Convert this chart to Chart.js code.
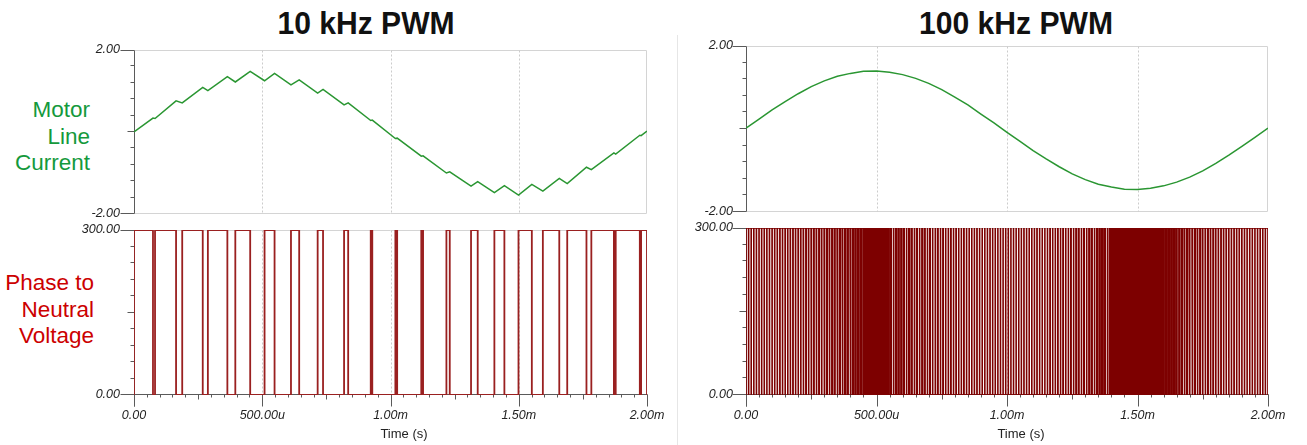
<!DOCTYPE html>
<html>
<head>
<meta charset="utf-8">
<script src="https://cdn.jsdelivr.net/npm/chart.js@4"></script>
<style>
    body { margin: 0; width: 1307px; height: 445px; overflow: hidden; position: relative; background: #fff; font-family: "Liberation Sans", Arial, sans-serif; }
    .box { position: absolute; }
    .title { position: absolute; width: 400px; text-align: center; font-weight: bold; font-size: 32px; line-height: 32px; color: #111; transform: scaleX(0.94); }
    .side { position: absolute; text-align: right; font-size: 22.5px; line-height: 26.7px; }
    .axisTitle { position: absolute; width: 100px; text-align: center; font-size: 13px; color: #222; }
    .sep { position: absolute; left: 677px; top: 35px; width: 1px; height: 410px; background: #e6e6e6; }
</style>
</head>
<body>
<div class="title" style="left:166px; top:7px;">10 kHz PWM</div>
<div class="title" style="left:816px; top:7px;">100 kHz PWM</div>
<div class="side" style="right:1217px; top:97px; color:#14993c;">Motor<br>Line<br>Current</div>
<div class="side" style="right:1213px; top:270px; color:#cc0000;">Phase to<br>Neutral<br>Voltage</div>
<div class="sep"></div>

<div class="box" style="left:0px; top:25px; width:680px; height:214px;"><canvas id="curLeft"></canvas></div>
<div class="box" style="left:0px; top:205px; width:680px; height:240px;"><canvas id="voltLeft"></canvas></div>
<div class="box" style="left:612px; top:21px; width:695px; height:216px;"><canvas id="curRight"></canvas></div>
<div class="box" style="left:612px; top:203px; width:695px; height:242px;"><canvas id="voltRight"></canvas></div>

<div class="axisTitle" style="left:354px; top:426px;">Time (s)</div>
<div class="axisTitle" style="left:971px; top:426px;">Time (s)</div>

<script>
// time in microseconds
const timeTicks = [0, 500, 1000, 1500, 2000];
const xTickLabels = ["0.00", "500.00u", "1.00m", "1.50m", "2.00m"];
const currentRange = [-2, 2];
const currentTickLabels = ["-2.00", "2.00"];
const voltageRange = [0, 300];
const voltageTickLabels = ["0.00", "300.00"];
const pwmLevels = [0, 300];

// 10 kHz PWM: high intervals (rise / fall)
const pwm10Rise = [0, 82, 188, 288, 395, 509, 612, 716, 819, 923, 1019, 1120, 1218, 1314, 1405, 1499, 1594, 1689, 1783, 1878, 1977];
const pwm10Fall = [74, 164, 268, 364, 453, 548, 644, 737, 835, 929, 1026, 1127, 1231, 1340, 1444, 1551, 1658, 1764, 1871, 1972, 2000];

// 10 kHz motor current at the switching edges
const cur10Time = [0, 74, 82, 164, 188, 268, 288, 364, 395, 453, 509, 548, 612, 644, 716, 737, 819, 835, 923, 929,
    1019, 1026, 1120, 1127, 1218, 1231, 1314, 1340, 1405, 1444, 1499, 1551, 1594, 1658, 1689, 1764, 1783, 1871, 1878, 1972, 1977, 2000];
const cur10Value = [0.00, 0.34, 0.33, 0.76, 0.71, 1.09, 1.01, 1.35, 1.22, 1.48, 1.25, 1.43, 1.15, 1.27, 0.95, 1.04, 0.66, 0.71, 0.28, 0.29,
    -0.16, -0.15, -0.59, -0.58, -1.00, -0.97, -1.32, -1.21, -1.48, -1.31, -1.54, -1.28, -1.44, -1.13, -1.26, -0.86, -0.92, -0.51, -0.54, -0.08, -0.09, 0.02];

// 100 kHz motor current
const cur100Time = [0, 50, 100, 150, 200, 250, 300, 350, 400, 450, 500, 550, 600, 650, 700, 750, 800, 850, 900, 950,
    1000, 1050, 1100, 1150, 1200, 1250, 1300, 1350, 1400, 1450, 1500, 1550, 1600, 1650, 1700, 1750, 1800, 1850, 1900, 1950, 2000];
const cur100Value = [0.02, 0.24, 0.46, 0.66, 0.85, 1.02, 1.16, 1.27, 1.34, 1.39, 1.40, 1.37, 1.31, 1.22, 1.10, 0.95, 0.77, 0.58, 0.36, 0.15,
    -0.08, -0.30, -0.52, -0.72, -0.91, -1.08, -1.22, -1.33, -1.40, -1.45, -1.46, -1.43, -1.37, -1.28, -1.16, -1.01, -0.83, -0.63, -0.42, -0.20, 0.02];

// 100 kHz PWM duty, one value per 50 us (5 periods of 10 us)
const pwm100Duty = [0.97, 0.96, 0.94, 0.91, 0.87, 0.83, 0.78, 0.73, 0.67, 0.56, 0.44, 0.30, 0.26, 0.22, 0.17, 0.13, 0.09, 0.06, 0.04, 0.03,
    0.03, 0.04, 0.06, 0.09, 0.13, 0.18, 0.24, 0.35, 0.43, 0.48, 0.53, 0.58, 0.63, 0.72, 0.79, 0.85, 0.90, 0.93, 0.96, 0.97];
const pwm100Period = 10;
const periodsPerDuty = 5;

const COLORS = {
    current: "#2a9632",
    voltage10: "#9a2020",
    voltage100: "#7d0000",
    axis: "#5a5a5a",
    frame: "#d4d4d4",
    grid: "#cccccc",
    tickText: "#222",
};

const scopeAxes = {
    id: "scopeAxes",
    beforeDatasetsDraw(chart, args, opts) {
        const ctx = chart.ctx;
        const xs = chart.scales.x;
        const ys = chart.scales.y;
        const px = (v) => Math.round(xs.getPixelForValue(v)) + 0.5;
        const py = (v) => Math.round(ys.getPixelForValue(v)) - 0.5;
        const left = px(timeTicks[0]);
        const right = px(timeTicks[timeTicks.length - 1]) - 1;
        const top = py(ys.max) + 1;
        const bottom = py(ys.min);

        ctx.save();
        ctx.lineWidth = 1;
        // light frame
        ctx.strokeStyle = COLORS.frame;
        ctx.beginPath();
        ctx.moveTo(left, top);
        ctx.lineTo(right, top);
        ctx.lineTo(right, bottom);
        if (!opts.xAxis) ctx.lineTo(left, bottom);
        ctx.stroke();

        // dashed time grid
        ctx.strokeStyle = COLORS.grid;
        ctx.setLineDash([2, 2]);
        timeTicks.slice(1, -1).forEach((t) => {
            ctx.beginPath();
            ctx.moveTo(px(t), top);
            ctx.lineTo(px(t), bottom);
            ctx.stroke();
        });
        ctx.setLineDash([]);

        // axes
        ctx.strokeStyle = COLORS.axis;
        ctx.beginPath();
        ctx.moveTo(left, top);
        ctx.lineTo(left, bottom + (opts.xAxis ? 12 : 0));
        ctx.stroke();

        const eps = 1e-6;
        for (let v = ys.min; v <= ys.max + eps; v += opts.yStep) {
            let len = 4;
            if (Math.abs(v - ys.min) < eps || Math.abs(v - ys.max) < eps) len = 14;
            else if (Math.abs(v - opts.yMid) < eps) len = 7;
            const y = py(v) + (Math.abs(v - ys.max) < eps ? 1 : 0);
            ctx.beginPath();
            ctx.moveTo(left - len, y);
            ctx.lineTo(left, y);
            ctx.stroke();
        }

        if (opts.xAxis) {
            ctx.beginPath();
            ctx.moveTo(left, bottom);
            ctx.lineTo(right + 1, bottom);
            ctx.stroke();
            for (let t = xs.min; t <= xs.max; t += 50) {
                const len = t % 500 === 0 ? 12 : t % 250 === 0 ? 5 : 3;
                const x = Math.min(px(t), right + 1);
                ctx.beginPath();
                ctx.moveTo(x, bottom);
                ctx.lineTo(x, bottom + len);
                ctx.stroke();
            }
        }
        ctx.restore();
    },
};

function zip(times, values) {
    return times.map((t, i) => ({ x: t, y: values[i] }));
}

function buildVoltage10() {
    const points = [];
    pwm10Rise.forEach((rise, i) => {
        const fall = pwm10Fall[i];
        points.push({ x: rise, y: pwmLevels[0] }, { x: rise, y: pwmLevels[1] }, { x: fall, y: pwmLevels[1] }, { x: fall, y: pwmLevels[0] });
    });
    return points;
}

function buildVoltage100() {
    const points = [];
    pwm100Duty.forEach((duty, block) => {
        for (let k = 0; k < periodsPerDuty; k++) {
            const center = (block * periodsPerDuty + k + 0.5) * pwm100Period;
            const half = (duty * pwm100Period) / 2;
            points.push(
                { x: center - half, y: pwmLevels[0] },
                { x: center - half, y: pwmLevels[1] },
                { x: center + half, y: pwmLevels[1] },
                { x: center + half, y: pwmLevels[0] }
            );
        }
    });
    return points;
}

function createScope(canvasID, settings) {
    const tickFont = { family: "'Liberation Sans', Arial, sans-serif", size: 12.5, style: "italic" };
    return new Chart(document.getElementById(canvasID), {
        type: "line",
        data: {
            datasets: [
                {
                    data: settings.points,
                    borderColor: settings.color,
                    borderWidth: settings.lineWidth,
                    pointRadius: 0,
                    tension: 0,
                    fill: false,
                },
            ],
        },
        options: {
            responsive: true,
            maintainAspectRatio: false,
            animation: false,
            events: [],
            layout: { padding: settings.padding },
            plugins: {
                legend: { display: false },
                tooltip: { enabled: false },
                scopeAxes: { xAxis: settings.xAxis, yStep: settings.yStep, yMid: settings.yMid },
            },
            scales: {
                x: {
                    type: "linear",
                    min: timeTicks[0],
                    max: timeTicks[timeTicks.length - 1],
                    display: settings.xAxis,
                    grid: { display: false, drawTicks: false },
                    border: { display: false },
                    afterBuildTicks: (scale) => {
                        scale.ticks = timeTicks.map((v) => ({ value: v }));
                    },
                    ticks: {
                        autoSkip: false,
                        maxRotation: 0,
                        padding: 13,
                        color: COLORS.tickText,
                        font: tickFont,
                        callback: (value, index) => xTickLabels[index],
                    },
                    afterFit: (scale) => {
                        if (settings.xAxis) scale.height = 50;
                    },
                },
                y: {
                    type: "linear",
                    min: settings.range[0],
                    max: settings.range[1],
                    grid: { display: false, drawTicks: false },
                    border: { display: false },
                    afterBuildTicks: (scale) => {
                        scale.ticks = settings.range.map((v) => ({ value: v }));
                    },
                    ticks: {
                        padding: settings.labelPad,
                        color: COLORS.tickText,
                        font: tickFont,
                        callback: (value, index) => settings.labels[index],
                    },
                    afterFit: (scale) => {
                        scale.width = 134;
                    },
                },
            },
        },
        plugins: [scopeAxes],
    });
}

createScope("curLeft", {
    points: zip(cur10Time, cur10Value),
    color: COLORS.current, lineWidth: 1.5,
    range: currentRange, labels: currentTickLabels, yStep: 0.4, yMid: 0,
    xAxis: false, labelPad: 14,
    padding: { left: 0, top: 25, right: 33, bottom: 25 },
});
createScope("voltLeft", {
    points: buildVoltage10(),
    color: COLORS.voltage10, lineWidth: 1.8,
    range: voltageRange, labels: voltageTickLabels, yStep: 30, yMid: 150,
    xAxis: true, labelPad: 14,
    padding: { left: 0, top: 25, right: 33, bottom: 0 },
});
createScope("curRight", {
    points: zip(cur100Time, cur100Value),
    color: COLORS.current, lineWidth: 1.5,
    range: currentRange, labels: currentTickLabels, yStep: 0.4, yMid: 0,
    xAxis: false, labelPad: 13,
    padding: { left: 0, top: 25, right: 39, bottom: 25 },
});
createScope("voltRight", {
    points: buildVoltage100(),
    color: COLORS.voltage100, lineWidth: 1.6,
    range: voltageRange, labels: voltageTickLabels, yStep: 30, yMid: 150,
    xAxis: true, labelPad: 13,
    padding: { left: 0, top: 25, right: 39, bottom: 0 },
});
</script>
</body>
</html>
